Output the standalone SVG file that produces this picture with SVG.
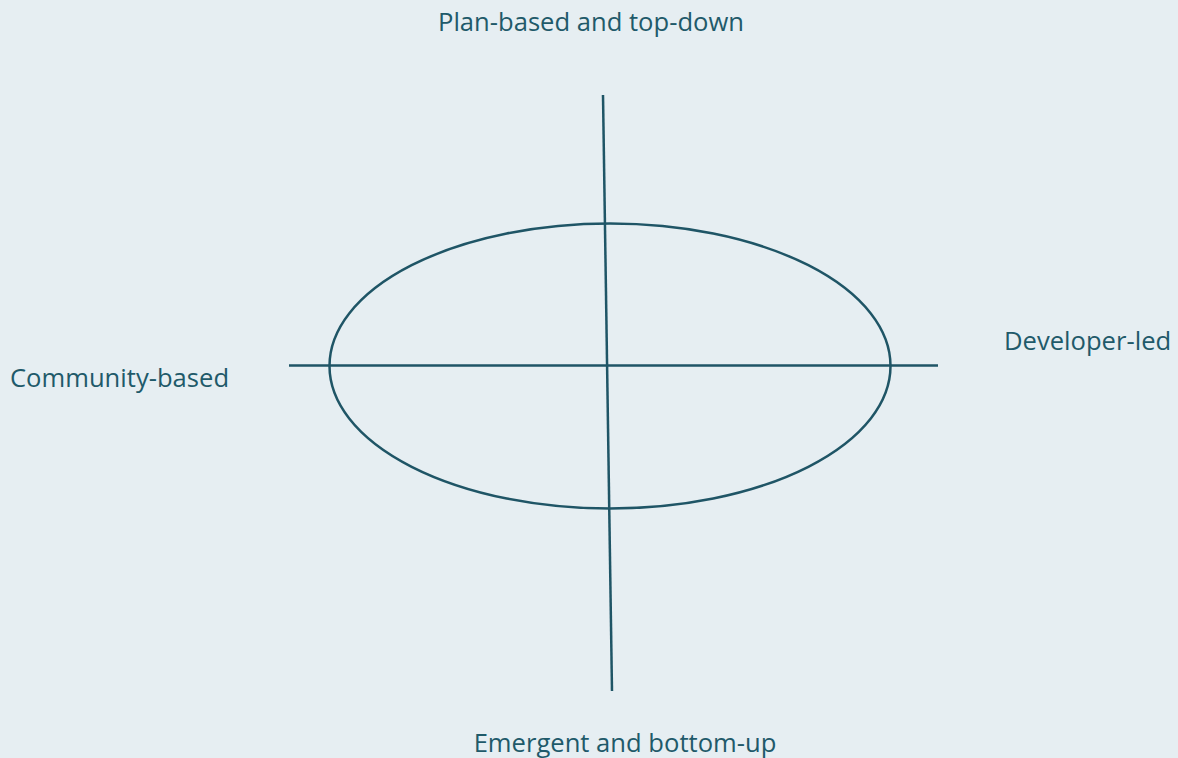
<svg xmlns="http://www.w3.org/2000/svg" width="1178" height="758" viewBox="0 0 1178 758">
<style>
.t{font-family:"Open Sans","Liberation Sans",sans-serif;font-size:25.6px;fill:#1f5a6a}
.s{stroke:#1f5566;stroke-width:2.5;fill:none}
</style>
<rect width="1178" height="758" fill="#e6eef2"/>
<g id="connectors">
<line class="s" x1="603" y1="95" x2="612" y2="691"/>
<line class="s" x1="289" y1="365.5" x2="938" y2="365.5"/>
</g>
<g id="ellipse"><ellipse class="s" cx="610" cy="366" rx="280.5" ry="142.5"/></g>
<g id="top"><text class="t" x="591" y="31" text-anchor="middle">Plan-based and top-down</text></g>
<g id="left"><text class="t" x="10" y="387">Community-based</text></g>
<g id="right"><text class="t" x="1004" y="350">Developer-led</text></g>
<g id="bottom"><text class="t" x="625" y="752" text-anchor="middle">Emergent and bottom-up</text></g>
</svg>
